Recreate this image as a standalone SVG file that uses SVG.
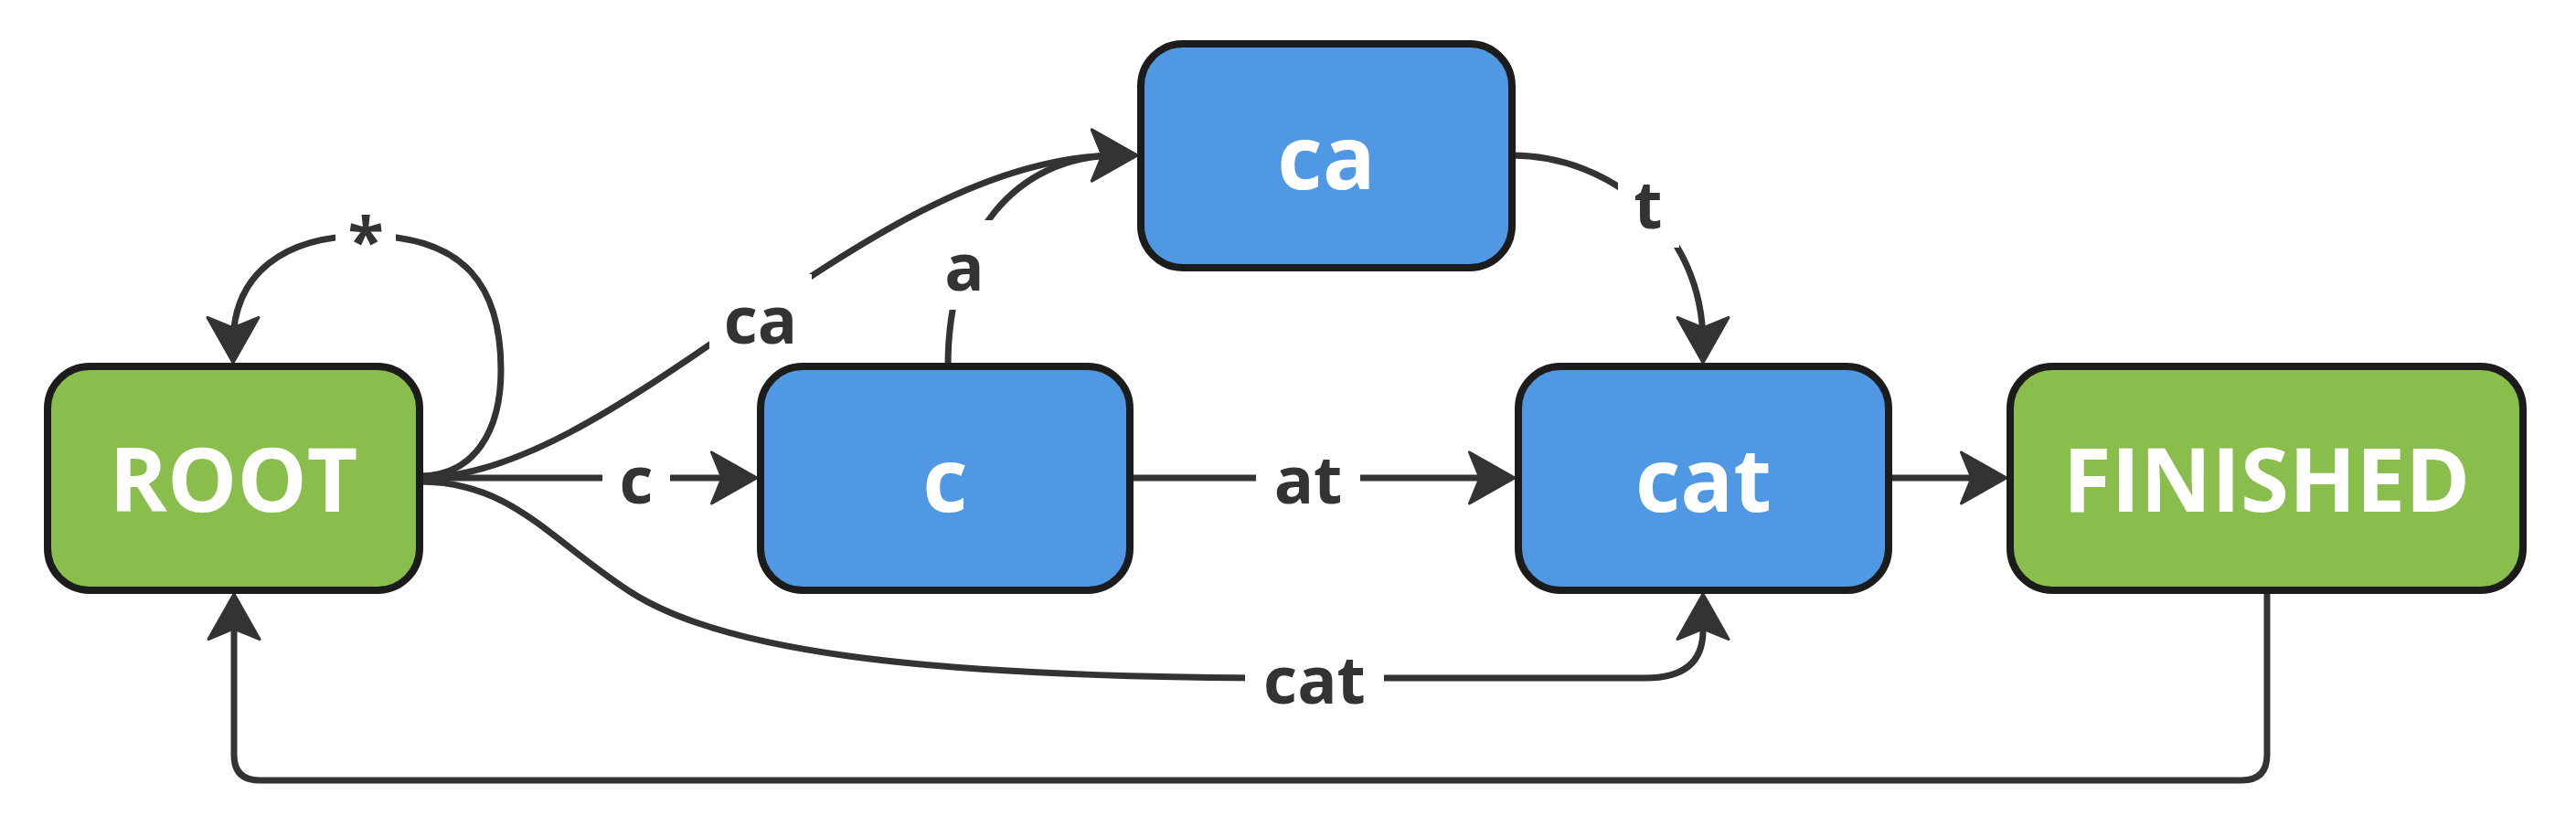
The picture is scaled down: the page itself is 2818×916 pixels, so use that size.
<svg xmlns="http://www.w3.org/2000/svg" width="2818" height="916" viewBox="0 0 2818 916">
<style>
.node rect{stroke:#1c1c1c;stroke-width:8}
.green rect{fill:#89bd4c}
.blue rect{fill:#5098e4}
.node text{font-family:"Open Sans","Liberation Sans",sans-serif;font-weight:700;font-size:96px;fill:#ffffff;text-anchor:middle}
.edge{fill:none;stroke:#333333;stroke-width:7}
.lbg{fill:#ffffff}
.lbl{font-family:"Open Sans","Liberation Sans",sans-serif;font-weight:700;font-size:72px;fill:#333333;text-anchor:middle}
</style>
<defs>
<marker id="arr" markerUnits="userSpaceOnUse" markerWidth="80" markerHeight="80" refX="30" refY="0" orient="auto" overflow="visible" viewBox="-10 -40 80 80">
<path d="M1.5,-28 L51,0 L1.5,28 L13,0 Z" fill="#333333" stroke="#333333" stroke-width="3" stroke-linejoin="round"/>
</marker>
</defs>
<rect width="2818" height="916" fill="#ffffff"/>
<g id="connectors">
<path class="edge" d="M459,523 L807,523" marker-end="url(#arr)"/>
<path class="edge" d="M459,521 C520,521 548,470 548,405 C548,315 510,258 400,258 C310,258 255,300 255,376" marker-end="url(#arr)"/>
<path class="edge" d="M459,523 C680,523 950,170 1223,170" marker-end="url(#arr)"/>
<path class="edge" d="M1037,401 C1037,260 1110,170 1223,170" marker-end="url(#arr)"/>
<path class="edge" d="M1654,170 C1760,170 1863,250 1863,376" marker-end="url(#arr)"/>
<path class="edge" d="M1236,523 L1636,523" marker-end="url(#arr)"/>
<path class="edge" d="M2066,523 L2174,523" marker-end="url(#arr)"/>
<path class="edge" d="M459,527 C560,527 600,590 690,648 C790,712 1000,740 1380,742 L1800,742 Q1863,742 1863,690 L1863,671" marker-end="url(#arr)"/>
<path class="edge" d="M2480,646 L2480,826 Q2480,854 2452,854 L284,854 Q256,854 256,826 L256,671" marker-end="url(#arr)"/>
<rect class="lbg" x="659" y="474" width="74" height="98"/>
<text class="lbl" x="696" y="551">c</text>
<rect class="lbg" x="367" y="211" width="66" height="98"/>
<text class="lbl" x="400" y="290">*</text>
<rect class="lbg" x="776" y="300" width="112" height="98"/>
<text class="lbl" x="832" y="376">ca</text>
<rect class="lbg" x="1016" y="241" width="78" height="98"/>
<text class="lbl" x="1055" y="318">a</text>
<rect class="lbg" x="1770" y="173" width="67" height="98"/>
<text class="lbl" x="1803" y="250">t</text>
<rect class="lbg" x="1374" y="474" width="114" height="98"/>
<text class="lbl" x="1431" y="551">at</text>
<rect class="lbg" x="1362" y="693" width="152" height="98"/>
<text class="lbl" x="1438" y="770">cat</text>
</g>
<g id="node-root" class="node green">
<rect x="52" y="401" width="407" height="245" rx="46"/>
<text x="255.5" y="560">ROOT</text>
</g>
<g id="node-c" class="node blue">
<rect x="832" y="401" width="404" height="245" rx="46"/>
<text x="1034" y="560">c</text>
</g>
<g id="node-ca" class="node blue">
<rect x="1248" y="48" width="406" height="245" rx="46"/>
<text x="1451" y="207">ca</text>
</g>
<g id="node-cat" class="node blue">
<rect x="1661" y="401" width="405" height="245" rx="46"/>
<text x="1863.5" y="560">cat</text>
</g>
<g id="node-finished" class="node green">
<rect x="2199" y="401" width="561" height="245" rx="46"/>
<text x="2479.5" y="560">FINISHED</text>
</g>
</svg>
